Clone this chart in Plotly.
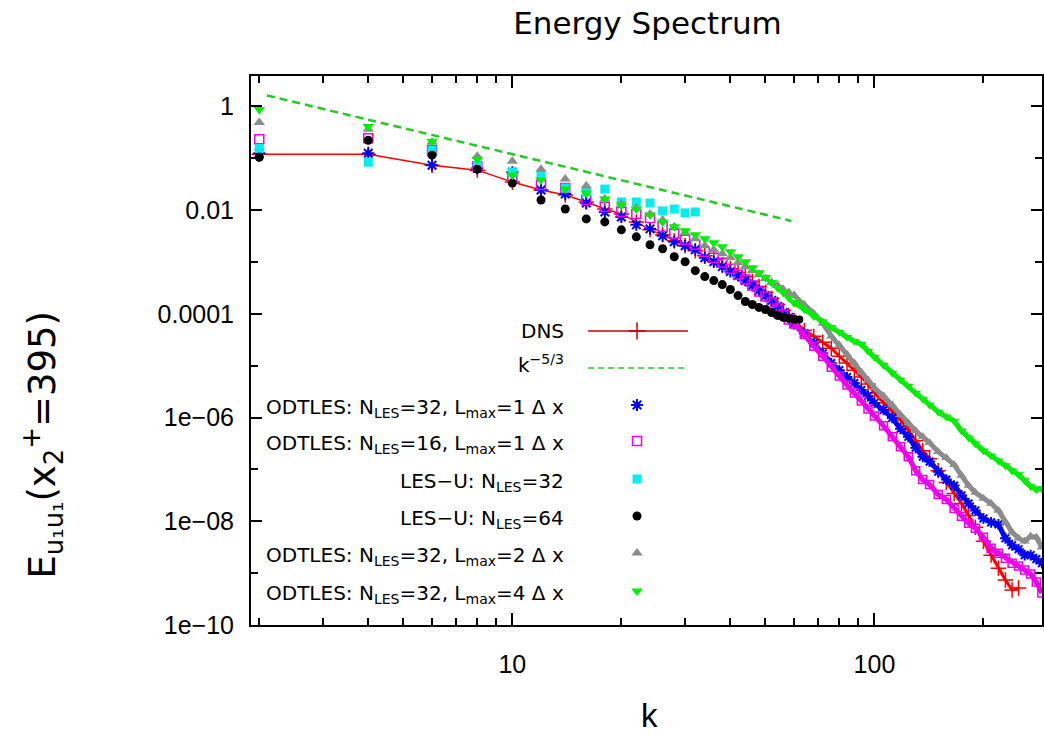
import plotly.graph_objects as go

# ---------------- data ----------------
k_low = [2, 4, 6, 8, 10, 12, 14, 16, 18, 20, 22, 24, 26, 28, 30, 32]
k_high = [34, 36, 38, 40, 42, 44, 46, 48, 50, 52, 54, 56, 58, 60,
          64, 68, 72, 76, 80, 84, 88, 92, 96, 100,
          106, 112, 118, 124, 130, 136, 142, 150, 158, 166, 174, 182, 190,
          200, 210, 220, 230, 240, 250, 260, 270, 280, 290]

k_dns = [2, 4, 6, 8, 10, 12, 14, 16, 18, 20, 22, 24, 26, 28, 30, 32,
         34, 36, 38, 40, 42, 44, 46, 48, 50, 52, 54, 56, 58, 60,
         64, 68, 72, 76, 80, 84, 88, 92, 96, 100,
         106, 112, 118, 124, 130, 136, 142, 150, 158, 166, 174, 182, 190,
         200, 210, 220, 230, 240, 250]
E_dns = [0.120, 0.120, 0.0737, 0.0591, 0.0348, 0.0244, 0.0196, 0.0144, 0.0105, 0.00845,
         0.00593, 0.00417, 0.00334, 0.00256, 0.00206, 0.00165,
         0.00132, 0.00111, 0.000888, 0.000744, 0.000623, 0.000522, 0.000419, 0.000336,
         0.000258, 0.000198, 0.000151, 0.000116, 9.31e-5, 7.47e-5,
         4.80e-5, 3.68e-5, 2.82e-5, 2.17e-5, 1.52e-5, 1.12e-5, 8.20e-6, 6.02e-6, 4.42e-6, 2.96e-6,
         1.91e-6, 1.34e-6, 8.99e-7, 5.78e-7, 3.56e-7, 2.29e-7, 1.60e-7, 9.44e-8, 5.55e-8,
         3.42e-8, 2.20e-8, 1.29e-8, 7.61e-9,
         4.09e-9, 2.21e-9, 1.24e-9, 7.31e-10, 4.70e-10, 5.13e-10]

k_ref = [2.1, 59]
E_ref = [1.63, 0.0062]

E_odt32_l1 = [0.125, 0.125, 0.0737, 0.0645, 0.0541, 0.0244, 0.0205, 0.0137, 0.00923, 0.00740,
              0.00520, 0.00436, 0.00320, 0.00245, 0.00206, 0.00172,
              0.00121, 0.00101, 0.000813, 0.000652, 0.000546, 0.000438, 0.000351, 0.000281,
              0.000225, 0.000181, 0.000139, 0.000106, 8.53e-5, 6.54e-5,
              4.20e-5, 2.70e-5, 1.74e-5, 1.12e-5, 8.20e-6, 6.02e-6, 4.61e-6, 3.39e-6, 2.60e-6, 1.91e-6,
              1.40e-6, 9.82e-7, 6.04e-7, 4.24e-7, 2.61e-7, 1.75e-7, 1.41e-7, 9.03e-8, 6.34e-8,
              4.87e-8, 3.13e-8, 2.20e-8, 1.61e-8,
              1.13e-8, 9.48e-9, 8.68e-9, 4.68e-9, 3.43e-9, 2.88e-9, 2.21e-9, 2.21e-9, 1.85e-9, 1.55e-9]

E_odt16_l1 = [0.233, 0.243, 0.143, 0.0705, 0.0415, 0.0305, 0.0267, 0.0157, 0.0115, 0.00923,
              0.00845, 0.00708, 0.00476, 0.00349, 0.00268, 0.00215,
              0.00158, 0.00121, 0.000970, 0.000744, 0.000570, 0.000457, 0.000351, 0.000269,
              0.000216, 0.000166, 0.000127, 9.73e-5, 7.80e-5, 6.54e-5,
              4.02e-5, 2.37e-5, 1.52e-5, 9.35e-6, 6.29e-6, 4.23e-6, 2.96e-6, 2.08e-6, 1.46e-6, 1.07e-6,
              6.90e-7, 4.24e-7, 2.73e-7, 1.75e-7, 9.44e-8, 6.34e-8, 5.08e-8, 3.27e-8, 2.62e-8,
              1.76e-8, 1.24e-8, 9.07e-9, 7.28e-9,
              4.89e-9, 3.01e-9, 2.41e-9, 1.93e-9, 1.55e-9, 1.36e-9, 1.14e-9, 9.53e-10, 6.69e-10, 4.11e-10]

k_lesu32 = [2, 4, 6, 8, 10, 12, 14, 16, 18, 20, 22, 24, 26, 28, 30, 32]
E_lesu32 = [0.156, 0.0841, 0.143, 0.0737, 0.0541, 0.0474, 0.0267, 0.0224, 0.0255, 0.0144,
            0.0144, 0.0137, 0.00966, 0.0105, 0.00883, 0.00923]

k_lesu64 = [2, 4, 6, 8, 10, 12, 14, 16, 18, 20, 22, 24, 26, 28, 30, 32,
            34, 36, 38, 40, 42, 44, 46, 48, 50, 52, 54, 56, 58, 60, 62]
E_lesu64 = [0.105, 0.223, 0.115, 0.0618, 0.0333, 0.0157, 0.0105, 0.00678, 0.00593, 0.00417,
            0.00306, 0.00215, 0.00180, 0.00126, 0.00101, 0.000681,
            0.000522, 0.000438, 0.000367, 0.000294, 0.000225, 0.000173, 0.000151, 0.000133,
            0.000121, 0.000106, 9.31e-5, 8.53e-5, 8.16e-5, 7.80e-5, 7.80e-5]

E_odt32_l2 = [0.493, 0.362, 0.204, 0.110, 0.0879, 0.0618, 0.0397, 0.0291, 0.0164, 0.0132,
              0.0110, 0.00845, 0.00648, 0.00476, 0.00365, 0.00280,
              0.00206, 0.00172, 0.00144, 0.00121, 0.000970, 0.000813, 0.000681, 0.000570,
              0.000478, 0.000401, 0.000351, 0.000294, 0.000258, 0.000225,
              0.000151, 0.000102, 6.54e-5, 3.68e-5, 2.47e-5, 1.66e-5, 1.12e-5, 7.50e-6, 5.27e-6, 3.70e-6,
              2.60e-6, 1.75e-6, 1.12e-6, 7.87e-7, 5.53e-7, 4.24e-7, 3.25e-7, 2.19e-7, 1.68e-7,
              1.23e-7, 7.57e-8, 4.87e-8, 3.57e-8,
              2.74e-8, 2.20e-8, 1.61e-8, 9.48e-9, 6.10e-9, 4.68e-9, 4.09e-9, 5.11e-9, 4.89e-9, 3.14e-9]

E_odt32_l4 = [0.876, 0.413, 0.213, 0.0961, 0.0474, 0.0380, 0.0255, 0.0214, 0.0164, 0.0126,
              0.0105, 0.00809, 0.00593, 0.00476, 0.00399, 0.00334,
              0.00280, 0.00235, 0.00197, 0.00158, 0.00126, 0.00101, 0.000778, 0.000623,
              0.000500, 0.000401, 0.000321, 0.000258, 0.000206, 0.000166,
              0.000121, 8.91e-5, 7.15e-5, 5.48e-5, 4.39e-5, 3.52e-5, 2.95e-5, 2.59e-5, 1.90e-5, 1.46e-5,
              1.02e-5, 7.18e-6, 5.27e-6, 4.04e-6, 2.96e-6, 2.28e-6, 1.75e-6, 1.28e-6, 1.03e-6,
              8.60e-7, 5.53e-7, 4.06e-7, 3.11e-7,
              2.29e-7, 1.83e-7, 1.47e-7, 1.18e-7, 9.44e-8, 7.91e-8, 6.07e-8, 4.66e-8, 4.07e-8, 4.26e-8]

k_odt = k_low + k_high

legend_labels = [
    "DNS",
    "k<sup>−5/3</sup>",
    "ODTLES: N<sub>LES</sub>=32, L<sub>max</sub>=1 Δ x",
    "ODTLES: N<sub>LES</sub>=16, L<sub>max</sub>=1 Δ x",
    "LES−U: N<sub>LES</sub>=32",
    "LES−U: N<sub>LES</sub>=64",
    "ODTLES: N<sub>LES</sub>=32, L<sub>max</sub>=2 Δ x",
    "ODTLES: N<sub>LES</sub>=32, L<sub>max</sub>=4 Δ x",
]

x_major = [10, 100]
x_minor = [2, 3, 4, 5, 6, 7, 8, 9, 20, 30, 40, 50, 60, 70, 80, 90, 200]
y_major = [1, 1e-2, 1e-4, 1e-6, 1e-8, 1e-10]
y_major_text = ["1", "0.01", "0.0001", "1e−06", "1e−08", "1e−10"]
y_minor = [1e-1, 1e-3, 1e-5, 1e-7, 1e-9]

# ---------------- styles ----------------
FONT = "Liberation Sans, Arial, Helvetica, sans-serif"
FONT_W = "DejaVu Sans, Verdana, sans-serif"
C_RED = "#ff0000"
C_REFGREEN = "#22cc22"
C_BLUE = "#0000ff"
C_MAG = "#ee00ee"
C_CYAN = "#00eeee"
C_BLACK = "#000000"
C_GRAY = "#8c8c8c"
C_GREEN = "#00ee00"
K_BAND = 60   # from here on the dense spectra merge into a continuous band

series = [
    dict(x=k_odt, y=E_odt32_l1, symbol="asterisk-open", color=C_BLUE, size=10, lw=2),
    dict(x=k_odt, y=E_odt16_l1, symbol="square-open", color=C_MAG, size=9, lw=1.5),
    dict(x=k_lesu32, y=E_lesu32, symbol="square", color=C_CYAN, size=9, lw=0),
    dict(x=k_lesu64, y=E_lesu64, symbol="circle", color=C_BLACK, size=9, lw=0),
    dict(x=k_odt, y=E_odt32_l2, symbol="triangle-up", color=C_GRAY, size=10, lw=0),
    dict(x=k_odt, y=E_odt32_l4, symbol="triangle-down", color=C_GREEN, size=10, lw=0),
]


def marker_of(s, size=None):
    sz = s["size"] if size is None else size
    if s["lw"] > 0:
        return dict(symbol=s["symbol"], size=sz, color=s["color"],
                    line=dict(color=s["color"], width=s["lw"]))
    return dict(symbol=s["symbol"], size=sz, color=s["color"], line=dict(width=0))


fig = go.Figure()

fig.add_trace(go.Scatter(
    x=k_dns, y=E_dns, mode="lines+markers",
    line=dict(color=C_RED, width=1.5),
    marker=dict(symbol="cross-thin", size=11, line=dict(color=C_RED, width=1.5)),
    showlegend=False, hoverinfo="skip"))
# dense part of DNS: a thicker stroke where the crosses merge
kd_hi = [k for k in k_dns if k >= K_BAND]
Ed_hi = [e for k, e in zip(k_dns, E_dns) if k >= K_BAND]
fig.add_trace(go.Scatter(x=kd_hi, y=Ed_hi, mode="lines", line=dict(color=C_RED, width=3),
                         showlegend=False, hoverinfo="skip"))

fig.add_trace(go.Scatter(
    x=k_ref, y=E_ref, mode="lines",
    line=dict(color=C_REFGREEN, width=2.5, dash="8px,5px"),
    showlegend=False, hoverinfo="skip"))

for s in series:
    xs, ys = s["x"], s["y"]
    lo_x = [k for k in xs if k <= K_BAND]
    lo_y = [e for k, e in zip(xs, ys) if k <= K_BAND]
    hi_x = [k for k in xs if k >= K_BAND]
    hi_y = [e for k, e in zip(xs, ys) if k >= K_BAND]
    fig.add_trace(go.Scatter(x=lo_x, y=lo_y, mode="markers", marker=marker_of(s),
                             showlegend=False, hoverinfo="skip"))
    if hi_x:
        fig.add_trace(go.Scatter(x=hi_x, y=hi_y, mode="lines+markers",
                                 line=dict(color=s["color"], width=5),
                                 marker=marker_of(s, s["size"] - 1),
                                 showlegend=False, hoverinfo="skip"))

# ---------------- custom key (gnuplot style: text right-aligned, sample to the right) ----------------
L, R, T, B = 251, 1044, 76, 625
PW, PH = R - L, B - T


def px_x(px):
    return (px - L) / PW


def px_y(py):
    return (B - py) / PH


row_py = [331, 368, 405, 441, 479, 516, 553, 591]
text_dy = [0, -4, 3, 3, 3, 3, 3, 3]
for lab, py, dy in zip(legend_labels, row_py, text_dy):
    fig.add_annotation(x=px_x(567), y=px_y(py + dy), xref="paper", yref="paper",
                       text=lab, showarrow=False, xanchor="right", yanchor="middle",
                       font=dict(family=FONT_W, size=20, color="black"))

# key samples drawn on an overlay axis in [0,1]
fig.add_trace(go.Scatter(x=[px_x(589), px_x(689)], y=[px_y(331)] * 2, mode="lines",
                         line=dict(color="#cc0000", width=1.5), xaxis="x2", yaxis="y2",
                         showlegend=False, hoverinfo="skip"))
fig.add_trace(go.Scatter(x=[px_x(638)], y=[px_y(331)], mode="markers",
                         marker=dict(symbol="cross-thin", size=12, line=dict(color="#cc0000", width=1.5)),
                         xaxis="x2", yaxis="y2", showlegend=False, hoverinfo="skip"))
fig.add_trace(go.Scatter(x=[px_x(589), px_x(689)], y=[px_y(368)] * 2, mode="lines",
                         line=dict(color=C_REFGREEN, width=1.5, dash="6px,4px"), xaxis="x2", yaxis="y2",
                         showlegend=False, hoverinfo="skip"))
for s, py in zip(series, row_py[2:]):
    fig.add_trace(go.Scatter(x=[px_x(638)], y=[px_y(py)], mode="markers", marker=marker_of(s),
                             xaxis="x2", yaxis="y2", showlegend=False, hoverinfo="skip"))

axis_common = dict(showline=True, linecolor="black", linewidth=2, mirror="ticks",
                   ticks="inside", tickcolor="black", tickwidth=1.5,
                   showgrid=False, zeroline=False,
                   tickfont=dict(family=FONT, size=25, color="black"))

fig.update_layout(
    width=1044, height=735, autosize=False,
    margin=dict(l=L, r=1044 - R, t=T, b=735 - B, pad=0),
    paper_bgcolor="white", plot_bgcolor="white",
    showlegend=False,
    title=dict(text="Energy Spectrum", x=0.5 * (L + R) / 1044, xanchor="center",
               y=1 - 23 / 735, yanchor="middle", yref="container",
               font=dict(family=FONT_W, size=31, color="black")),
    xaxis=dict(type="log", range=[0.2782, 2.4628], tickvals=x_major,
               ticktext=[str(v) for v in x_major], ticklen=12, ticklabelstandoff=16,
               minor=dict(tickvals=x_minor, ticklen=7, ticks="inside", tickcolor="black", tickwidth=1.5),
               **axis_common),
    yaxis=dict(type="log", range=[-10.003, 0.588], tickvals=y_major, ticktext=y_major_text,
               ticklen=11, ticklabelstandoff=10,
               minor=dict(tickvals=y_minor, ticklen=7, ticks="inside", tickcolor="black", tickwidth=1.5),
               **axis_common),
    xaxis2=dict(overlaying="x", range=[0, 1], visible=False, anchor="y"),
    yaxis2=dict(overlaying="y", range=[0, 1], visible=False, anchor="x"),
)

fig.add_annotation(x=px_x(651), y=px_y(715), xref="paper", yref="paper", text="k",
                   showarrow=False, xanchor="center", yanchor="middle",
                   font=dict(family=FONT, size=33, color="black"))
fig.add_annotation(x=px_x(41), y=px_y(445), xref="paper", yref="paper",
                   text="E<sub>u₁u₁</sub>(x<sub>2</sub><sup>+</sup>=395)", textangle=-90,
                   showarrow=False, xanchor="center", yanchor="middle",
                   font=dict(family=FONT_W, size=37, color="black"))

fig.write_html("out.html")
